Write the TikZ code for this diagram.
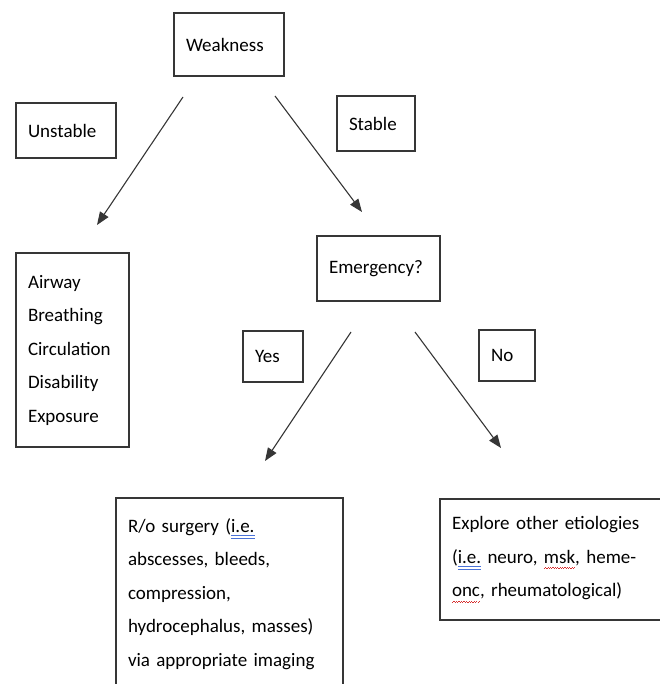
\documentclass[tikz,border=0pt]{standalone}
\usepackage{fontspec}
\setmainfont{Carlito}
\usetikzlibrary{calc,arrows.meta}

\definecolor{linegray}{HTML}{363636}
\definecolor{ulblue}{HTML}{4A72D8}
\definecolor{wavered}{HTML}{D83030}

% word-style marks under some words
\newsavebox\ulbox
\newcommand\blueul[1]{\leavevmode\hbox{\sbox\ulbox{#1}\rlap{\color{ulblue}\rule[-4pt]{\wd\ulbox}{0.9pt}}\rlap{\color{ulblue}\rule[-6.5pt]{\wd\ulbox}{0.9pt}}\usebox\ulbox}}
\newcommand\redwave[1]{\leavevmode\hbox{\sbox\ulbox{#1}\rlap{\color{wavered}\hbox to \wd\ulbox{\xleaders\hbox{\rule[-6pt]{1.2pt}{0.7pt}\rule[-5pt]{1.2pt}{0.7pt}}\hfill}}\usebox\ulbox}}

\tikzset{
  box/.style={draw=linegray, line width=1.4pt, anchor=north west, outer sep=0pt,
              align=left, inner xsep=12pt, inner ysep=0pt,
              font=\fontsize{19pt}{33.5pt}\selectfont},
  link/.style={draw=linegray, line width=1.1pt, -{Triangle[length=13pt,width=10pt]}}
}

\begin{document}
\begin{tikzpicture}[x=1pt,y=-1pt]
\useasboundingbox (0,0) rectangle (659,684);

\node[box, text width=86pt,  minimum height=63pt]  (weak)  at (174,13)  {Weakness};
\node[box, text width=76pt,  minimum height=55pt]  (unst)  at (16,103)  {Unstable};
\node[box, text width=54pt,  minimum height=55pt]  (stab)  at (337,96)  {Stable};
\node[box, text width=99pt,  minimum height=65pt]  (emerg) at (317,236) {Emergency?};
\node[box, text width=89pt,  minimum height=194pt] (abcde) at (16,253)  {Airway\\ Breathing\\ Circulation\\ Disability\\ Exposure};
\node[box, text width=36pt,  minimum height=51pt]  (yes)   at (243,331) {Yes};
\node[box, text width=32pt,  minimum height=51pt]  (no)    at (479,330) {No};
\node[box, text width=203pt, minimum height=192pt] (ro)    at (116,498) {R/o surgery (\blueul{i.e.}\\ abscesses, bleeds,\\ compression,\\ hydrocephalus, masses)\\ via appropriate imaging};
\node[box, text width=201pt, minimum height=121pt] (expl)  at (440,499) {Explore other etiologies\\ (\blueul{i.e.} neuro, \redwave{msk}, heme-\\ \redwave{onc}, rheumatological)};

% loose arrow ends
\coordinate (weakL)  at ($(weak.south west)+(9,21)$);
\coordinate (weakR)  at ($(weak.south west)+(101,20)$);
\coordinate (abcdeT) at ($(abcde.north west)+(81,-28)$);
\coordinate (emergT) at ($(emerg.north west)+(45,-24)$);
\coordinate (emergL) at ($(emerg.south west)+(34,31)$);
\coordinate (emergR) at ($(emerg.south west)+(98,31)$);
\coordinate (roT)    at ($(ro.north west)+(149,-37)$);
\coordinate (explT)  at ($(expl.north west)+(61,-51)$);

\draw[link] (weakL) -- (abcdeT);
\draw[link] (weakR) -- (emergT);
\draw[link] (emergL) -- (roT);
\draw[link] (emergR) -- (explT);
\end{tikzpicture}
\end{document}
